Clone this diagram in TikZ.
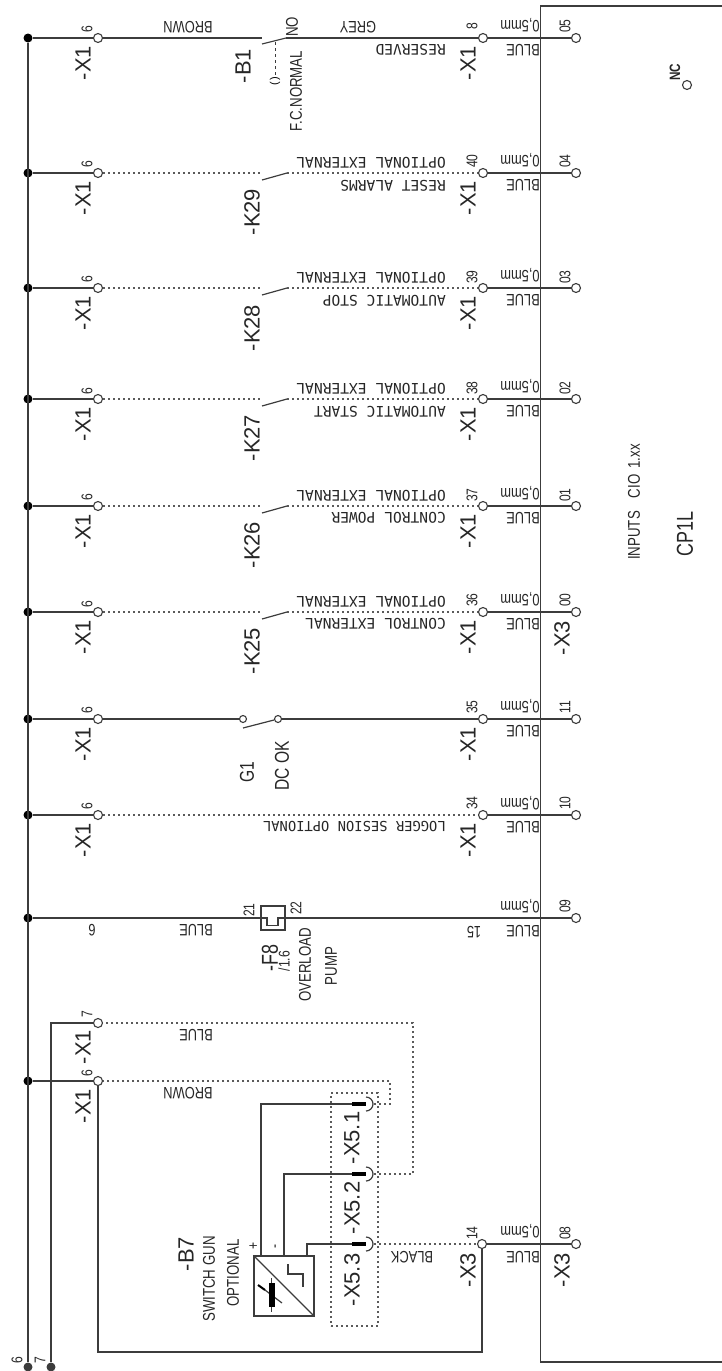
\documentclass[tikz,border=0pt]{standalone}
\usepackage{fontspec}
\newfontfamily\cadmono{DejaVu Sans Mono}
\newfontfamily\cadsans{Liberation Sans}
\newfontfamily\cadnarrow[FakeStretch=0.78]{Liberation Sans}
\definecolor{wirecol}{HTML}{3C3C3C}
\definecolor{dotcol}{HTML}{5A5A5A}
\tikzset{
  term/.style={circle, draw=wirecol, line width=1.1pt, fill=white, inner sep=0pt, minimum size=9pt},
  tinyterm/.style={term, minimum size=7pt},
  busdot/.style={circle, fill=black, inner sep=0pt, minimum size=9pt},
  enddot/.style={circle, fill=wirecol, inner sep=0pt, minimum size=9pt},
  wire/.style={draw=wirecol, line width=1.2pt},
  dotwire/.style={draw=dotcol, line width=1.2pt, dash pattern=on 2pt off 3pt},
  tag/.style={rotate=90, inner sep=0pt, text=black!85, font=\cadsans\fontsize{22}{22}\selectfont},
  pin/.style={rotate=90, inner sep=0pt, text=black!85, font=\cadnarrow\fontsize{15.5}{15.5}\selectfont},
  side/.style={rotate=90, inner sep=0pt, text=black!85, font=\cadnarrow\fontsize{17}{17}\selectfont},
  cable/.style={rotate=180, inner sep=0pt, text=black!85, font=\cadmono\fontsize{14.6}{14.6}\selectfont},
  rightcable/.style={cable, anchor=west},
  mm/.style={rotate=180, inner sep=0pt, text=black!85, font=\cadnarrow\fontsize{16.5}{16.5}\selectfont},
}
\begin{document}
\begin{tikzpicture}[x=1pt, y=-1pt]
  \useasboundingbox (0,0) rectangle (722,1371);

  % Controller box
  \coordinate (boxa) at (722,6);
  \coordinate (boxb) at (540.5,6);
  \coordinate (boxc) at (540.5,1362);
  \coordinate (boxd) at (722,1362);
  \draw[wire] (boxa) -- (boxb) -- (boxc) -- (boxd);

  % Bus dots
  \node[busdot] (d05) at (28,38) {};
  \node[busdot] (d04) at (28,173) {};
  \node[busdot] (d03) at (28,288) {};
  \node[busdot] (d02) at (28,399) {};
  \node[busdot] (d01) at (28,506) {};
  \node[busdot] (d00) at (28,612) {};
  \node[busdot] (d11) at (28,719) {};
  \node[busdot] (d10) at (28,815) {};
  \node[busdot] (d09) at (28,918) {};
  \node[busdot] (d06) at (28,1081) {};
  \node[enddot] (e6) at (28,1367) {};
  \node[enddot] (e7) at (51,1367) {};
  \coordinate (bend7) at (51,1023);

  % Left terminals
  \node[term] (l05) at (98,38) {};
  \node[term] (l04) at (98,173) {};
  \node[term] (l03) at (98,288) {};
  \node[term] (l02) at (98,399) {};
  \node[term] (l01) at (98,506) {};
  \node[term] (l00) at (98,612) {};
  \node[term] (l11) at (98,719) {};
  \node[term] (l10) at (98,815) {};
  \node[term] (l07) at (98,1023) {};
  \node[term] (l06) at (98,1081) {};

  % Right terminals
  \node[term] (r05) at (483,38) {};
  \node[term] (r04) at (483,173) {};
  \node[term] (r03) at (483,288) {};
  \node[term] (r02) at (483,399) {};
  \node[term] (r01) at (483,506) {};
  \node[term] (r00) at (483,612) {};
  \node[term] (r11) at (483,719) {};
  \node[term] (r10) at (483,815) {};
  \node[term] (r14) at (482,1244) {};

  % Inputs of the controller
  \node[term] (i05) at (576,38) {};
  \node[term] (i04) at (576,173) {};
  \node[term] (i03) at (576,288) {};
  \node[term] (i02) at (576,399) {};
  \node[term] (i01) at (576,506) {};
  \node[term] (i00) at (576,612) {};
  \node[term] (i11) at (576,719) {};
  \node[term] (i10) at (576,815) {};
  \node[term] (i09) at (576,918) {};
  \node[term] (i08) at (576,1244) {};
  \node[term] (nc) at (687,85) {};

  % Bus
  \draw[wire] (d05) -- (e6);
  \draw[wire] (l07) -- (bend7) -- (e7);
  \draw[wire] (d05) -- (l05);
  \draw[wire] (d04) -- (l04);
  \draw[wire] (d03) -- (l03);
  \draw[wire] (d02) -- (l02);
  \draw[wire] (d01) -- (l01);
  \draw[wire] (d00) -- (l00);
  \draw[wire] (d11) -- (l11);
  \draw[wire] (d10) -- (l10);
  \draw[wire] (d06) -- (l06);

  % Terminal to controller
  \draw[wire] (r05) -- (i05);
  \draw[wire] (r04) -- (i04);
  \draw[wire] (r03) -- (i03);
  \draw[wire] (r02) -- (i02);
  \draw[wire] (r01) -- (i01);
  \draw[wire] (r00) -- (i00);
  \draw[wire] (r11) -- (i11);
  \draw[wire] (r10) -- (i10);
  \draw[wire] (r14) -- (i08);

  % Contact B1
  \coordinate (a05) at (262,38);
  \coordinate (b05) at (286,38);
  \coordinate (c05) at (262,44);
  \coordinate (k1) at (275,42);
  \coordinate (k2) at (275,75);
  \draw[wire] (l05) -- (a05);
  \draw[wire] (b05) -- (r05);
  \draw[wire] (c05) -- (b05);
  \draw[wire, line width=0.8pt, dashed] (k1) -- (k2);
  \node[inner sep=0pt, rotate=90, font=\cadsans\fontsize{11}{11}\selectfont] (k3) at (275,81) {(\,)};

  % Contacts K25 to K29
  \coordinate (a04) at (262,173);
  \coordinate (b04) at (287,173);
  \coordinate (c04) at (262,180);
  \draw[dotwire] (l04) -- (a04);
  \draw[dotwire] (b04) -- (r04);
  \draw[wire] (c04) -- (b04);
  \coordinate (a03) at (262,288);
  \coordinate (b03) at (287,288);
  \coordinate (c03) at (262,295);
  \draw[dotwire] (l03) -- (a03);
  \draw[dotwire] (b03) -- (r03);
  \draw[wire] (c03) -- (b03);
  \coordinate (a02) at (262,399);
  \coordinate (b02) at (287,399);
  \coordinate (c02) at (262,406);
  \draw[dotwire] (l02) -- (a02);
  \draw[dotwire] (b02) -- (r02);
  \draw[wire] (c02) -- (b02);
  \coordinate (a01) at (262,506);
  \coordinate (b01) at (287,506);
  \coordinate (c01) at (262,513);
  \draw[dotwire] (l01) -- (a01);
  \draw[dotwire] (b01) -- (r01);
  \draw[wire] (c01) -- (b01);
  \coordinate (a00) at (262,612);
  \coordinate (b00) at (287,612);
  \coordinate (c00) at (262,619);
  \draw[dotwire] (l00) -- (a00);
  \draw[dotwire] (b00) -- (r00);
  \draw[wire] (c00) -- (b00);

  % Contact G1
  \node[tinyterm] (a11) at (243,719) {};
  \node[tinyterm] (b11) at (278,719) {};
  \coordinate (c11) at (243,728);
  \coordinate (e11) at (274,720);
  \draw[wire] (l11) -- (a11);
  \draw[wire] (b11) -- (r11);
  \draw[wire] (c11) -- (e11);

  % Logger
  \draw[dotwire] (l10) -- (r10);

  % Overload F8
  \node[draw=wirecol, line width=1.1pt, inner sep=0pt, minimum size=24pt] (f8) at (273,918) {};
  \coordinate (f8a) at (267,918);
  \coordinate (f8b) at (267,925.5);
  \coordinate (f8c) at (278,925.5);
  \coordinate (f8d) at (278,918);
  \draw[wire] (d09) -- (f8.west);
  \draw[wire] (f8.west) -- (f8a) -- (f8b) -- (f8c) -- (f8d) -- (f8.east);
  \draw[wire] (f8.east) -- (i09);

  % Switch gun B7
  \node[draw=wirecol, line width=1.2pt, inner sep=0pt, minimum size=60pt] (b7) at (284,1286) {};
  \draw[wire] (b7.north west) -- (b7.south east);
  \coordinate (hy1) at (288,1264);
  \coordinate (hy2) at (288,1274);
  \coordinate (hy3) at (303,1274);
  \coordinate (hy4) at (303,1287);
  \draw[wire] (hy1) -- (hy2) -- (hy3) -- (hy4);
  \coordinate (th1) at (271.5,1278);
  \coordinate (th2) at (271.5,1312);
  \coordinate (th3) at (258,1285);
  \coordinate (th4) at (265,1290);
  \coordinate (th5) at (282,1303);
  \draw[wire] (th1) -- (th2);
  \draw[wire] (th4) -- (th5);
  \draw[draw=black, line width=2pt] (th3) -- (th4);
  \node[fill=black, inner sep=0pt, minimum width=6pt, minimum height=24pt] (th) at (271.5,1295) {};

  % Plugs X5
  \coordinate (u1) at (261,1256);
  \coordinate (u1b) at (261,1104);
  \coordinate (p1a) at (352,1104);
  \coordinate (p1b) at (366,1104);
  \coordinate (u2) at (284,1256);
  \coordinate (u2b) at (284,1174);
  \coordinate (p2a) at (352,1174);
  \coordinate (p2b) at (366,1174);
  \coordinate (u3) at (307,1256);
  \coordinate (u3b) at (307,1244);
  \coordinate (p3a) at (352,1244);
  \coordinate (p3b) at (366,1244);
  \draw[wire] (u1) -- (u1b) -- (p1a);
  \draw[wire] (u2) -- (u2b) -- (p2a);
  \draw[wire] (u3) -- (u3b) -- (p3a);
  \draw[line width=4.5pt] (p1a) -- (p1b);
  \draw[line width=4.5pt] (p2a) -- (p2b);
  \draw[line width=4.5pt] (p3a) -- (p3b);
  \draw[wire] (p1b) ++(0,-7) arc[start angle=90, end angle=-90, radius=7pt];
  \draw[wire] (p2b) ++(0,-7) arc[start angle=90, end angle=-90, radius=7pt];
  \draw[wire] (p3b) ++(0,-7) arc[start angle=90, end angle=-90, radius=7pt];
  \node[dotwire, draw, inner sep=0pt, minimum width=47pt, minimum height=233pt] (x5box) at (354.5,1209.5) {};

  % Optional wiring
  \coordinate (q1) at (374,1104);
  \coordinate (q1a) at (390,1104);
  \coordinate (q1b) at (390,1081);
  \coordinate (q2) at (374,1174);
  \coordinate (q2a) at (413,1174);
  \coordinate (q2b) at (413,1023);
  \coordinate (q3) at (374,1244);
  \draw[dotwire] (q1) -- (q1a) -- (q1b) -- (l06);
  \draw[dotwire] (q2) -- (q2a) -- (q2b) -- (l07);
  \draw[dotwire] (q3) -- (r14);
  \coordinate (g1) at (98,1352);
  \coordinate (g2) at (482,1352);
  \draw[wire] (l06) -- (g1) -- (g2) -- (r14);

  % Tags of the terminals
  \node[tag] (xl05) at (83,63) {-X1};
  \node[tag] (xl04) at (83,198) {-X1};
  \node[tag] (xl03) at (83,313) {-X1};
  \node[tag] (xl02) at (83,424) {-X1};
  \node[tag] (xl01) at (83,531) {-X1};
  \node[tag] (xl00) at (83,637) {-X1};
  \node[tag] (xl11) at (83,744) {-X1};
  \node[tag] (xl10) at (83,840) {-X1};
  \node[tag] (xl07) at (83,1047) {-X1};
  \node[tag] (xl06) at (83,1106) {-X1};
  \node[tag] (xr05) at (468,63) {-X1};
  \node[tag] (xr04) at (468,198) {-X1};
  \node[tag] (xr03) at (468,313) {-X1};
  \node[tag] (xr02) at (468,424) {-X1};
  \node[tag] (xr01) at (468,531) {-X1};
  \node[tag] (xr00) at (468,637) {-X1};
  \node[tag] (xr11) at (468,744) {-X1};
  \node[tag] (xr10) at (468,840) {-X1};
  \node[tag] (xr14) at (468,1270) {-X3};
  \node[tag] (xi00) at (562,638) {-X3};
  \node[tag] (xi08) at (562,1270) {-X3};

  % Numbers of the terminals
  \node[pin] (nl05) at (87,29) {6};
  \node[pin] (nl04) at (87,164) {6};
  \node[pin] (nl03) at (87,279) {6};
  \node[pin] (nl02) at (87,391) {6};
  \node[pin] (nl01) at (87,497) {6};
  \node[pin] (nl00) at (87,604) {6};
  \node[pin] (nl11) at (87,710) {6};
  \node[pin] (nl10) at (87,806) {6};
  \node[pin] (nl07) at (87,1014) {7};
  \node[pin] (nl06) at (87,1073) {6};
  \node[pin] (nr05) at (472,26) {8};
  \node[pin] (nr04) at (472,161) {40};
  \node[pin] (nr03) at (472,277) {39};
  \node[pin] (nr02) at (472,388) {38};
  \node[pin] (nr01) at (472,495) {37};
  \node[pin] (nr00) at (472,600) {36};
  \node[pin] (nr11) at (472,707) {35};
  \node[pin] (nr10) at (472,803) {34};
  \node[pin] (nr14) at (472,1233) {14};
  \node[pin] (ni05) at (565,26) {05};
  \node[pin] (ni04) at (565,161) {04};
  \node[pin] (ni03) at (565,277) {03};
  \node[pin] (ni02) at (565,388) {02};
  \node[pin] (ni01) at (565,495) {01};
  \node[pin] (ni00) at (565,600) {00};
  \node[pin] (ni11) at (565,707) {11};
  \node[pin] (ni10) at (565,803) {10};
  \node[pin] (ni09) at (565,906) {09};
  \node[pin] (ni08) at (565,1233) {08};
  \node[pin, font=\cadnarrow\bfseries\fontsize{15}{15}\selectfont] (nnc) at (675,72) {NC};

  % Section and cable labels
  \node[mm] (m05) at (520,25) {0,5mm};
  \node[mm] (m04) at (520,160) {0,5mm};
  \node[mm] (m03) at (520,275) {0,5mm};
  \node[mm] (m02) at (520,386) {0,5mm};
  \node[mm] (m01) at (520,493) {0,5mm};
  \node[mm] (m00) at (520,599) {0,5mm};
  \node[mm] (m11) at (520,706) {0,5mm};
  \node[mm] (m10) at (520,803) {0,5mm};
  \node[mm] (m09) at (520,906) {0,5mm};
  \node[mm] (m08) at (520,1231) {0,5mm};
  \node[mm] (c05u) at (523,50) {BLUE};
  \node[mm] (c04u) at (523,185) {BLUE};
  \node[mm] (c03u) at (523,300) {BLUE};
  \node[mm] (c02u) at (523,411) {BLUE};
  \node[mm] (c01u) at (523,518) {BLUE};
  \node[mm] (c00u) at (523,624) {BLUE};
  \node[mm] (c11u) at (523,731) {BLUE};
  \node[mm] (c10u) at (523,827) {BLUE};
  \node[mm] (c09u) at (523,931) {BLUE};
  \node[mm] (c08u) at (523,1257) {BLUE};
  \node[mm] (w07) at (196,1035) {BLUE};
  \node[mm] (w09) at (196,930) {BLUE};
  \node[mm] (w06) at (188,1093) {BROWN};
  \node[mm] (w05) at (188,27) {BROWN};
  \node[mm] (wg) at (358,27) {GREY};
  \node[mm] (wb) at (412,1257) {BLACK};
  \node[mm] (wn9) at (92,930) {6};
  \node[mm] (wn15) at (474,932) {15};

  % Labels of the rows
  \node[rightcable] (t05) at (446,50) {RESERVED};
  \node[rightcable] (t04a) at (446,162.5) {OPTIONAL EXTERNAL};
  \node[rightcable] (t04b) at (446,186) {RESET ALARMS};
  \node[rightcable] (t03a) at (446,277.5) {OPTIONAL EXTERNAL};
  \node[rightcable] (t03b) at (446,301) {AUTOMATIC STOP};
  \node[rightcable] (t02a) at (446,388.5) {OPTIONAL EXTERNAL};
  \node[rightcable] (t02b) at (446,412) {AUTOMATIC START};
  \node[rightcable] (t01a) at (446,495.5) {OPTIONAL EXTERNAL};
  \node[rightcable] (t01b) at (446,518) {CONTROL POWER};
  \node[rightcable] (t00a) at (446,601.5) {OPTIONAL EXTERNAL};
  \node[rightcable] (t00b) at (446,624) {CONTROL EXTERNAL};
  \node[rightcable, font=\cadmono\fontsize{13.8}{13.8}\selectfont] (t10) at (446,827) {LOGGER SESION OPTIONAL};

  % Labels of the devices
  \node[tag] (kb1) at (243,66) {-B1};
  \node[side] (no) at (292,27) {NO};
  \node[side] (fc) at (296,91) {F.C.NORMAL};
  \node[tag] (k29) at (252,212) {-K29};
  \node[tag] (k28) at (252,328) {-K28};
  \node[tag] (k27) at (252,438) {-K27};
  \node[tag] (k26) at (252,545) {-K26};
  \node[tag] (k25) at (252,651) {-K25};
  \node[tag, font=\cadnarrow\fontsize{20}{20}\selectfont] (g1t) at (247,772) {G1};
  \node[tag, font=\cadnarrow\fontsize{20}{20}\selectfont] (dcok) at (282,766) {DC OK};
  \node[tag, font=\cadnarrow\fontsize{23}{23}\selectfont] (f8t) at (270,958) {-F8};
  \node[pin] (f8s) at (284,961) {/1.6};
  \node[pin] (f821) at (249,910) {21};
  \node[pin] (f822) at (296,908) {22};
  \node[side] (ovl) at (305,965) {OVERLOAD};
  \node[side] (pmp) at (331,966) {PUMP};
  \node[tag] (b7t) at (186,1254) {-B7};
  \node[side] (sgun) at (209,1279) {SWITCH GUN};
  \node[side] (opt) at (233,1273) {OPTIONAL};
  \node[pin] (plus) at (254,1246) {+};
  \node[pin] (minus) at (277,1246) {-};
  \node[tag] (x51) at (352,1138) {-X5.1};
  \node[tag] (x52) at (352,1208) {-X5.2};
  \node[tag] (x53) at (352,1280) {-X5.3};
  \node[pin] (bus6) at (17,1360) {6};
  \node[pin] (bus7) at (40,1360) {7};

  % Controller labels
  \node[side] (inp) at (634,502) {INPUTS\hspace{13pt}CIO\hspace{6pt}1.xx};
  \node[tag, font=\cadnarrow\fontsize{23}{23}\selectfont] (cpu) at (685,534) {CP1L};
\end{tikzpicture}
\end{document}
